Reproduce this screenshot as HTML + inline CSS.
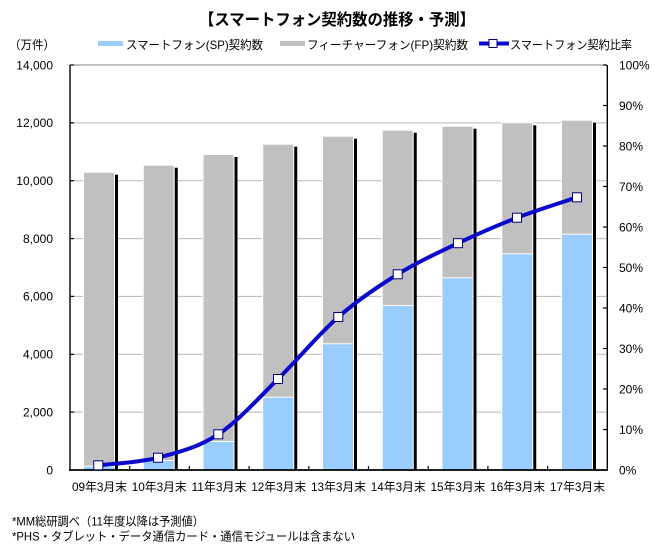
<!DOCTYPE html>
<html><head><meta charset="utf-8"><style>
html,body{margin:0;padding:0;background:#fff;}
svg{display:block;}
text{font-family:"Liberation Sans","Noto Sans CJK JP",sans-serif;fill:#000;}
</style></head><body>
<svg width="655" height="550" viewBox="0 0 655 550" xmlns="http://www.w3.org/2000/svg">
<rect x="0" y="0" width="655" height="550" fill="#fff"/>
<!-- title -->
<text x="199" y="25" font-size="16" font-weight="bold" textLength="276" lengthAdjust="spacingAndGlyphs">【スマートフォン契約数の推移・予測】</text>
<!-- unit -->
<text x="9" y="49" font-size="12" textLength="46" lengthAdjust="spacingAndGlyphs">（万件）</text>
<!-- legend -->
<rect x="98" y="41" width="25" height="5" fill="#99ccff"/>
<text x="126" y="49" font-size="12" textLength="137" lengthAdjust="spacingAndGlyphs">スマートフォン(SP)契約数</text>
<rect x="280" y="41" width="25" height="5" fill="#c0c0c0"/>
<text x="307" y="49" font-size="12" textLength="161" lengthAdjust="spacingAndGlyphs">フィーチャーフォン(FP)契約数</text>
<line x1="479" y1="43.5" x2="509" y2="43.5" stroke="#0a0acc" stroke-width="4"/>
<rect x="489" y="39.5" width="8" height="8" fill="#fff" stroke="#000080" stroke-width="1"/>
<text x="510" y="49" font-size="12" textLength="122" lengthAdjust="spacingAndGlyphs">スマートフォン契約比率</text>

<!-- gridlines -->
<g stroke="#b8b8b8" stroke-width="1">
<line x1="70" y1="412.1" x2="607" y2="412.1"/>
<line x1="70" y1="354.3" x2="607" y2="354.3"/>
<line x1="70" y1="296.4" x2="607" y2="296.4"/>
<line x1="70" y1="238.6" x2="607" y2="238.6"/>
<line x1="70" y1="180.7" x2="607" y2="180.7"/>
<line x1="70" y1="122.9" x2="607" y2="122.9"/>
</g>
<line x1="70" y1="65" x2="607" y2="65" stroke="#808080" stroke-width="1"/>

<!-- bars -->
<g>
<!-- 1 -->
<rect x="86" y="174.7" width="32" height="295.3" fill="#000"/>
<rect x="83" y="171.7" width="32" height="298.3" fill="#fff"/>
<rect x="84" y="172.7" width="30" height="293" fill="#c0c0c0"/>
<rect x="84" y="466.7" width="30" height="3.3" fill="#99ccff"/>
<!-- 2 -->
<rect x="145.75" y="167.7" width="32" height="302.3" fill="#000"/>
<rect x="142.75" y="164.7" width="32" height="305.3" fill="#fff"/>
<rect x="143.75" y="165.7" width="30" height="294.3" fill="#c0c0c0"/>
<rect x="143.75" y="461" width="30" height="9" fill="#99ccff"/>
<!-- 3 -->
<rect x="205.5" y="157" width="32" height="313" fill="#000"/>
<rect x="202.5" y="154" width="32" height="316" fill="#fff"/>
<rect x="203.5" y="155" width="30" height="286" fill="#c0c0c0"/>
<rect x="203.5" y="442" width="30" height="28" fill="#99ccff"/>
<!-- 4 -->
<rect x="265.25" y="146.7" width="32" height="323.3" fill="#000"/>
<rect x="262.25" y="143.7" width="32" height="326.3" fill="#fff"/>
<rect x="263.25" y="144.7" width="30" height="252" fill="#c0c0c0"/>
<rect x="263.25" y="397.7" width="30" height="72.3" fill="#99ccff"/>
<!-- 5 -->
<rect x="325" y="138.7" width="32" height="331.3" fill="#000"/>
<rect x="322" y="135.7" width="32" height="334.3" fill="#fff"/>
<rect x="323" y="136.7" width="30" height="206.6" fill="#c0c0c0"/>
<rect x="323" y="344.3" width="30" height="125.7" fill="#99ccff"/>
<!-- 6 -->
<rect x="384.75" y="132.7" width="32" height="337.3" fill="#000"/>
<rect x="381.75" y="129.7" width="32" height="340.3" fill="#fff"/>
<rect x="382.75" y="130.7" width="30" height="174.3" fill="#c0c0c0"/>
<rect x="382.75" y="306" width="30" height="164" fill="#99ccff"/>
<!-- 7 -->
<rect x="444.5" y="128.7" width="32" height="341.3" fill="#000"/>
<rect x="441.5" y="125.7" width="32" height="344.3" fill="#fff"/>
<rect x="442.5" y="126.7" width="30" height="150.6" fill="#c0c0c0"/>
<rect x="442.5" y="278.3" width="30" height="191.7" fill="#99ccff"/>
<!-- 8 -->
<rect x="504.25" y="125.3" width="32" height="344.7" fill="#000"/>
<rect x="501.25" y="122.3" width="32" height="347.7" fill="#fff"/>
<rect x="502.25" y="123.3" width="30" height="130" fill="#c0c0c0"/>
<rect x="502.25" y="254.3" width="30" height="215.7" fill="#99ccff"/>
<!-- 9 -->
<rect x="564" y="122.7" width="32" height="347.3" fill="#000"/>
<rect x="561" y="119.7" width="32" height="350.3" fill="#fff"/>
<rect x="562" y="120.7" width="30" height="113" fill="#c0c0c0"/>
<rect x="562" y="234.7" width="30" height="235.3" fill="#99ccff"/>
</g>

<!-- axes -->
<line x1="70" y1="65" x2="70" y2="471" stroke="#000" stroke-width="1.4"/>
<line x1="607.3" y1="65" x2="607.3" y2="471" stroke="#000" stroke-width="1.4"/>
<line x1="69" y1="470" x2="608" y2="470" stroke="#000" stroke-width="1.8"/>
<g stroke="#000" stroke-width="1.2">
<line x1="70" y1="412.1" x2="74" y2="412.1"/>
<line x1="70" y1="354.3" x2="74" y2="354.3"/>
<line x1="70" y1="296.4" x2="74" y2="296.4"/>
<line x1="70" y1="238.6" x2="74" y2="238.6"/>
<line x1="70" y1="180.7" x2="74" y2="180.7"/>
<line x1="70" y1="122.9" x2="74" y2="122.9"/>
<line x1="70" y1="65" x2="74" y2="65"/>
<line x1="603" y1="429.5" x2="607" y2="429.5"/>
<line x1="603" y1="389" x2="607" y2="389"/>
<line x1="603" y1="348.5" x2="607" y2="348.5"/>
<line x1="603" y1="308" x2="607" y2="308"/>
<line x1="603" y1="267.5" x2="607" y2="267.5"/>
<line x1="603" y1="227" x2="607" y2="227"/>
<line x1="603" y1="186.5" x2="607" y2="186.5"/>
<line x1="603" y1="146" x2="607" y2="146"/>
<line x1="603" y1="105.5" x2="607" y2="105.5"/>
<line x1="603" y1="65" x2="607" y2="65"/>
<line x1="129.7" y1="466" x2="129.7" y2="470"/>
<line x1="189.4" y1="466" x2="189.4" y2="470"/>
<line x1="249.1" y1="466" x2="249.1" y2="470"/>
<line x1="308.8" y1="466" x2="308.8" y2="470"/>
<line x1="368.5" y1="466" x2="368.5" y2="470"/>
<line x1="428.2" y1="466" x2="428.2" y2="470"/>
<line x1="487.9" y1="466" x2="487.9" y2="470"/>
<line x1="547.6" y1="466" x2="547.6" y2="470"/>
</g>

<!-- line series -->
<path d="M98.3,465.3 C108.25,464.03 138,462.87 158,457.7 C178,452.53 198.3,447.42 218.3,434.3 C238.3,421.18 258,398.55 278,379 C298,359.45 318.35,334.45 338.3,317 C358.25,299.55 377.75,286.6 397.7,274.3 C417.65,262 438.12,252.63 458,243.2 C477.88,233.77 497.17,225.35 517,217.7 C536.83,210.05 567,200.7 577,197.3" fill="none" stroke="#0a0acc" stroke-width="4" stroke-linejoin="round"/>
<g fill="#fff" stroke="#000080" stroke-width="1">
<rect x="93.8" y="460.8" width="9" height="9"/>
<rect x="153.5" y="453.2" width="9" height="9"/>
<rect x="213.8" y="429.8" width="9" height="9"/>
<rect x="273.5" y="374.5" width="9" height="9"/>
<rect x="333.8" y="312.5" width="9" height="9"/>
<rect x="393.2" y="269.8" width="9" height="9"/>
<rect x="453.5" y="238.7" width="9" height="9"/>
<rect x="512.5" y="213.2" width="9" height="9"/>
<rect x="572.5" y="192.8" width="9" height="9"/>
</g>

<!-- left labels -->
<g font-size="12" text-anchor="end">
<text x="53" y="69.3">14,000</text>
<text x="53" y="127.2">12,000</text>
<text x="53" y="185">10,000</text>
<text x="53" y="242.9">8,000</text>
<text x="53" y="300.7">6,000</text>
<text x="53" y="358.6">4,000</text>
<text x="53" y="416.4">2,000</text>
<text x="53" y="474.3">0</text>
</g>
<!-- right labels -->
<g font-size="12">
<text x="619" y="69.3">100%</text>
<text x="619" y="109.8">90%</text>
<text x="619" y="150.3">80%</text>
<text x="619" y="190.8">70%</text>
<text x="619" y="231.3">60%</text>
<text x="619" y="271.8">50%</text>
<text x="619" y="312.3">40%</text>
<text x="619" y="352.8">30%</text>
<text x="619" y="393.3">20%</text>
<text x="619" y="433.8">10%</text>
<text x="619" y="474.3">0%</text>
</g>
<!-- category labels -->
<g font-size="12" text-anchor="middle">
<text x="99.5" y="491" textLength="55" lengthAdjust="spacingAndGlyphs">09年3月末</text>
<text x="159.2" y="491" textLength="55" lengthAdjust="spacingAndGlyphs">10年3月末</text>
<text x="219" y="491" textLength="55" lengthAdjust="spacingAndGlyphs">11年3月末</text>
<text x="278.7" y="491" textLength="55" lengthAdjust="spacingAndGlyphs">12年3月末</text>
<text x="338.5" y="491" textLength="55" lengthAdjust="spacingAndGlyphs">13年3月末</text>
<text x="398.2" y="491" textLength="55" lengthAdjust="spacingAndGlyphs">14年3月末</text>
<text x="458" y="491" textLength="55" lengthAdjust="spacingAndGlyphs">15年3月末</text>
<text x="517.7" y="491" textLength="55" lengthAdjust="spacingAndGlyphs">16年3月末</text>
<text x="577.5" y="491" textLength="55" lengthAdjust="spacingAndGlyphs">17年3月末</text>
</g>
<!-- footnotes -->
<text x="12" y="525.5" font-size="12" textLength="192" lengthAdjust="spacingAndGlyphs">*MM総研調べ（11年度以降は予測値）</text>
<text x="12" y="540.5" font-size="12" textLength="343" lengthAdjust="spacingAndGlyphs">*PHS・タブレット・データ通信カード・通信モジュールは含まない</text>
</svg>
</body></html>
